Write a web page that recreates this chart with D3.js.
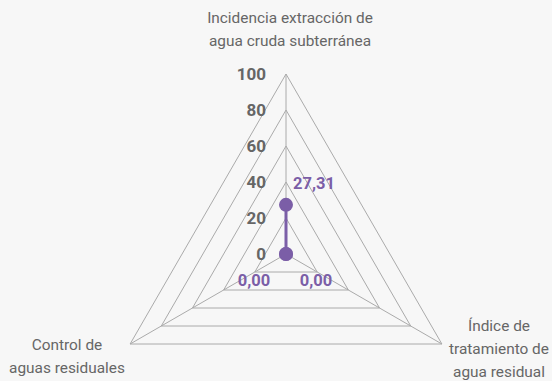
<!DOCTYPE html>
<html><head><meta charset="utf-8">
<script src="https://cdn.jsdelivr.net/npm/d3@7"></script>
<style>
html,body{margin:0;padding:0;background:#f7f7f7;}
svg{display:block;font-family:Roboto,"Liberation Sans",sans-serif;}
</style></head><body>
<svg id="c" width="552" height="381"></svg>
<script>
const categories = [["Incidencia extracción de","agua cruda subterránea"],["Índice de","tratamiento de","agua residual"],["Control de","aguas residuales"]];
const values = [27.31, 0.00, 0.00];
const tickValues = [0,20,40,60,80,100];

const svg = d3.select("#c");
const cx = 286, cy = 254, R = 180;
const r = d3.scaleLinear().domain([0,100]).range([0,R]);
const ang = i => i*2*Math.PI/categories.length;
const pt = (i,v) => [cx + r(v)*Math.sin(ang(i)), cy - r(v)*Math.cos(ang(i))];
const grid = "#aaaaaa", purple = "#7b5ea7", txt = "#666666";

// grid rings
tickValues.slice(1).forEach(t=>{
  svg.append("polygon")
    .attr("points", categories.map((c,i)=>pt(i,t).join(",")).join(" "))
    .attr("fill","none").attr("stroke",grid).attr("stroke-width",1);
});
// axes
categories.forEach((c,i)=>{
  const p = pt(i,100);
  svg.append("line").attr("x1",cx).attr("y1",cy).attr("x2",p[0]).attr("y2",p[1])
    .attr("stroke",grid).attr("stroke-width",1);
});
// tick labels
svg.selectAll("text.tick").data(tickValues).enter().append("text")
  .attr("x", cx-20).attr("y", t=>cy - r(t) + 6)
  .attr("text-anchor","end").attr("font-size",17).attr("font-weight","bold")
  .attr("fill",txt).text(d=>d);
// category labels
const labelPos = [{x:290,y:23},{x:499,y:331},{x:67,y:350}];
categories.forEach((c,i)=>{
  const t = svg.append("text").attr("text-anchor","middle")
    .attr("font-size",15.4).attr("fill",txt);
  c.forEach((line,j)=>{
    t.append("tspan").attr("x",labelPos[i].x).attr("y",labelPos[i].y + j*23).text(line);
  });
});
// series
const pts = values.map((v,i)=>pt(i,v));
svg.append("polygon").attr("points", pts.map(p=>p.join(",")).join(" "))
  .attr("fill","none").attr("stroke",purple).attr("stroke-width",3).attr("stroke-linejoin","round");
svg.selectAll("circle.p").data(pts).enter().append("circle")
  .attr("cx",d=>d[0]).attr("cy",d=>d[1]).attr("r",7).attr("fill",purple);
// data labels
const fmt = v => v.toFixed(2).replace(".",",");
const dl = [{dx:28,dy:-16},{dx:30,dy:32},{dx:-32,dy:32}];
values.forEach((v,i)=>{
  svg.append("text").attr("x",pts[i][0]+dl[i].dx).attr("y",pts[i][1]+dl[i].dy)
    .attr("text-anchor","middle").attr("font-size",16.5).attr("font-weight","bold")
    .attr("fill",purple).text(fmt(v));
});
</script></body></html>
